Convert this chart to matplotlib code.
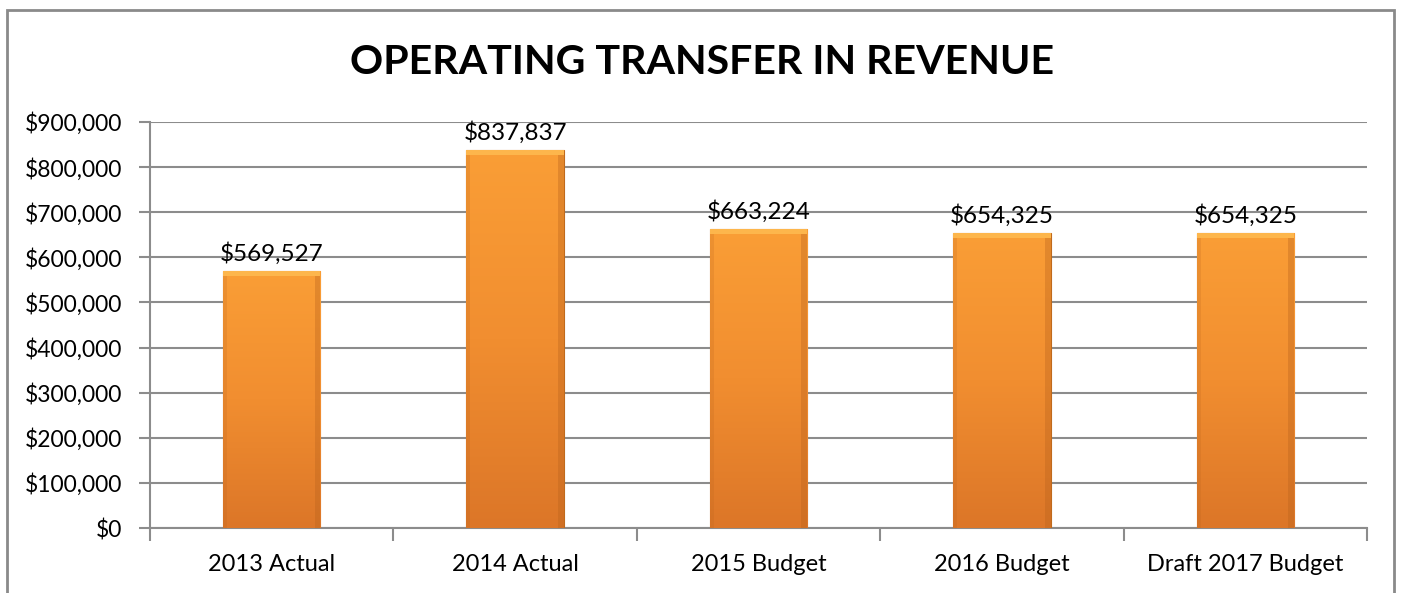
import matplotlib.pyplot as plt
import matplotlib.patches as mpatches
import numpy as np
from matplotlib.colors import LinearSegmentedColormap
from matplotlib.ticker import FuncFormatter

plt.rcParams['font.family'] = ['Lato', 'DejaVu Sans']

# Data
categories = ['2013 Actual', '2014 Actual', '2015 Budget', '2016 Budget', 'Draft 2017 Budget']
values = [569527, 837837, 663224, 654325, 654325]
y_ticks = [0, 100000, 200000, 300000, 400000, 500000, 600000, 700000, 800000, 900000]

GRID = '#8c8c8c'

fig = plt.figure(figsize=(14.04, 5.93), dpi=100)
ax = fig.add_axes([150 / 1404, 1 - 528 / 593, (1367 - 150) / 1404, (528 - 122) / 593])

# outer chart frame
fig.patches.append(mpatches.Rectangle((7 / 1404, -0.05), (1394 - 7) / 1404, 1.05 - 10 / 593,
                                      transform=fig.transFigure, fill=False,
                                      edgecolor='#8a8a8a', linewidth=2))

x = np.arange(len(categories))
bars = ax.bar(x, values, width=0.40, color='#f39430', edgecolor='#c06a1c',
              linewidth=0.8, zorder=3)

# vertical orange gradient inside each bar
cmap = LinearSegmentedColormap.from_list('org', ['#dc7628', '#f18e30', '#fa9e36'])
grad = np.linspace(0, 1, 256).reshape(-1, 1)
for b in bars:
    x0, w, h = b.get_x(), b.get_width(), b.get_height()
    im = ax.imshow(grad, extent=[x0, x0 + w, 0, h], origin='lower', cmap=cmap,
                   aspect='auto', zorder=3.5)
    im.set_clip_path(b)
    # bevel: light strip on top, darker sides
    ax.add_patch(mpatches.Rectangle((x0, h - 12000), w, 12000, color='#ffbf55',
                                    alpha=0.75, zorder=4, linewidth=0))
    ax.add_patch(mpatches.Rectangle((x0 + w * 0.94, 0), w * 0.06, h - 12000, color='#b8621c',
                                    alpha=0.35, zorder=4, linewidth=0))
    ax.add_patch(mpatches.Rectangle((x0, 0), w * 0.04, h - 12000, color='#b8621c',
                                    alpha=0.2, zorder=4, linewidth=0))

for xi, v in zip(x, values):
    ax.text(xi, v + 14000, f'${v:,.0f}', ha='center', va='bottom', fontsize=17.5, zorder=5)

ax.set_xlim(-0.5, len(categories) - 0.5)
ax.set_ylim(0, 900000)
ax.set_yticks(y_ticks)
ax.yaxis.set_major_formatter(FuncFormatter(lambda v, p: f'${v:,.0f}'))
ax.set_xticks(x)
ax.set_xticklabels(categories)
ax.set_xticks(np.arange(-0.5, len(categories)), minor=True)
ax.tick_params(axis='x', which='major', length=0, labelsize=17, pad=19)
ax.tick_params(axis='x', which='minor', length=9, width=1.5, color=GRID)
ax.tick_params(axis='y', length=8, width=1.5, color=GRID, labelsize=16.5, pad=12)

ax.grid(axis='y', color=GRID, linewidth=1.5, zorder=0)
ax.set_axisbelow(True)
for s in ['top', 'right']:
    ax.spines[s].set_visible(False)
for s in ['left', 'bottom']:
    ax.spines[s].set_color(GRID)
    ax.spines[s].set_linewidth(1.5)

fig.text(702 / 1404, 1 - 63 / 593, 'OPERATING TRANSFER IN REVENUE', ha='center', va='center',
         fontsize=29.6, fontweight='bold')

fig.savefig('out.png', dpi=100)
